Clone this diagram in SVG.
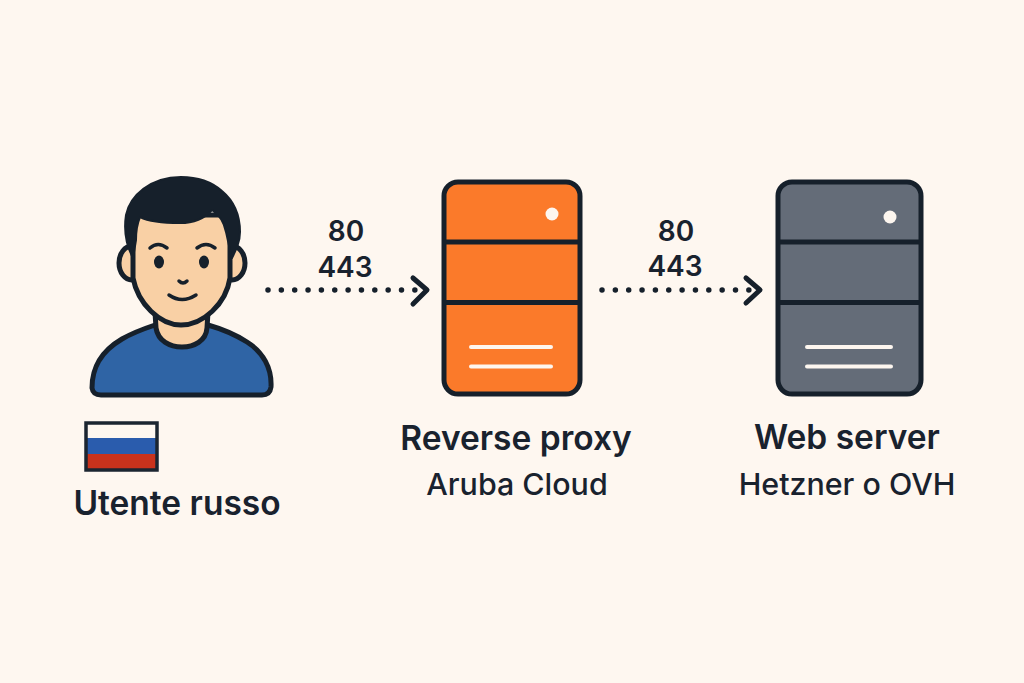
<svg xmlns="http://www.w3.org/2000/svg" width="1024" height="683" viewBox="0 0 1024 683">
<style>
.ink{stroke:#16202b;fill:none;stroke-linecap:round;stroke-linejoin:round}
.t{font-family:"Inter","Liberation Sans",sans-serif;fill:#19222e;text-anchor:middle}
.b{font-weight:600;font-size:33.500px}
.s{font-weight:500;font-size:30.400px}
.p{font-weight:600;font-size:28px}
.dots{stroke:#16202b;stroke-width:5.500;stroke-linecap:round;stroke-dasharray:0 13.350;fill:none}
.lt{stroke:#fdf6ef;stroke-width:4;stroke-linecap:round}
.skin{fill:#f9d0a5;stroke:#16202b;stroke-width:5;stroke-linejoin:round}
</style>
<rect width="1024" height="683" fill="#fef7f0"/>
<g id="user">
<path d="M92 388C92 368 100 352 122 339C134 332 146 328 155 325L208 325C222 329 236 335 247 342C263 352 272 368 271 387Q270 395 262 395L101 395Q93 395 92 388Z" fill="#2f64a5" stroke="#16202b" stroke-width="5" stroke-linejoin="round"/>
<path d="M155 312L156 328C158 341 170 347 182 347C194 347 206 341 207 328L208 312Z" class="skin"/>
<ellipse cx="132" cy="263" rx="13" ry="17" class="skin"/>
<ellipse cx="232" cy="263" rx="13" ry="17" class="skin"/>
<path d="M133 215L133 278C138 304 160 325 181 325C203 325 226 304 230 278L230 215Z" class="skin"/>
<path d="M133 258C125 243 124 228 126 215C130 196 150 177 181 177C200 177 213 183 222 191C234 201 240 216 240 232C240 242 236 250 232 258C230 252 228 240 226 232C224 222 218 214 212 210C205 218 195 223 180 223C165 223 150 222 140 217C137 224 136 232 136 240C135 246 134 252 133 258Z" fill="#16202b" stroke="#16202b" stroke-width="2" stroke-linejoin="round"/>
<path class="ink" stroke-width="3.500" d="M150 248Q158 241 167 248M197 248Q206 241 215 248"/>
<ellipse cx="159" cy="262" rx="5" ry="6.500" fill="#16202b"/>
<ellipse cx="204" cy="262" rx="5" ry="6.500" fill="#16202b"/>
<path d="M179 281Q183 285 187 281" class="ink" stroke-width="3.500"/>
<path d="M169 295Q182 304 196 295" class="ink" stroke-width="3.500"/>
</g>
<g id="flag">
<rect x="86" y="423" width="71" height="47" fill="#fef7f0"/>
<rect x="86" y="438" width="71" height="16" fill="#2a5cad"/>
<rect x="86" y="454" width="71" height="16" fill="#c9321c"/>
<rect x="86" y="423" width="71" height="47" fill="none" stroke="#1b2530" stroke-width="3.500"/>
<text class="t b" x="177" y="515">Utente russo</text>
</g>
<g id="proxy">
<rect x="444" y="182" width="136" height="212" rx="14" fill="#fb7a2a" stroke="#16202b" stroke-width="5"/>
<path d="M444 242H580M444 302.500H580" stroke="#16202b" stroke-width="5"/>
<circle cx="552" cy="214" r="6.500" fill="#fdf6ef"/>
<path class="lt" d="M471 347H551M471 366.500H551"/>
<text class="t b" x="516" y="450">Reverse proxy</text>
<text class="t s" x="517" y="495">Aruba Cloud</text>
</g>
<g id="web">
<rect x="778" y="182" width="143" height="212" rx="14" fill="#646c78" stroke="#16202b" stroke-width="5"/>
<path d="M778 242H921M778 302.500H921" stroke="#16202b" stroke-width="5"/>
<circle cx="890" cy="217" r="6.500" fill="#fdf6ef"/>
<path class="lt" d="M807 347H891M807 366.500H891"/>
<text class="t b" x="847" y="449">Web server</text>
<text class="t s" x="847" y="495">Hetzner o OVH</text>
</g>
<g id="connectors">
<path class="dots" d="M268 290H416"/>
<path class="ink" stroke-width="5" d="M413 278L427 290L413 304"/>
<path class="dots" d="M602 290H749"/>
<path class="ink" stroke-width="5" d="M746 278L760 290L746 303"/>
</g>
<g id="labels">
<text class="t p" x="346" y="241">80</text>
<text class="t p" x="345" y="277">443</text>
<text class="t p" x="676" y="241">80</text>
<text class="t p" x="675" y="276">443</text>
</g>
</svg>
